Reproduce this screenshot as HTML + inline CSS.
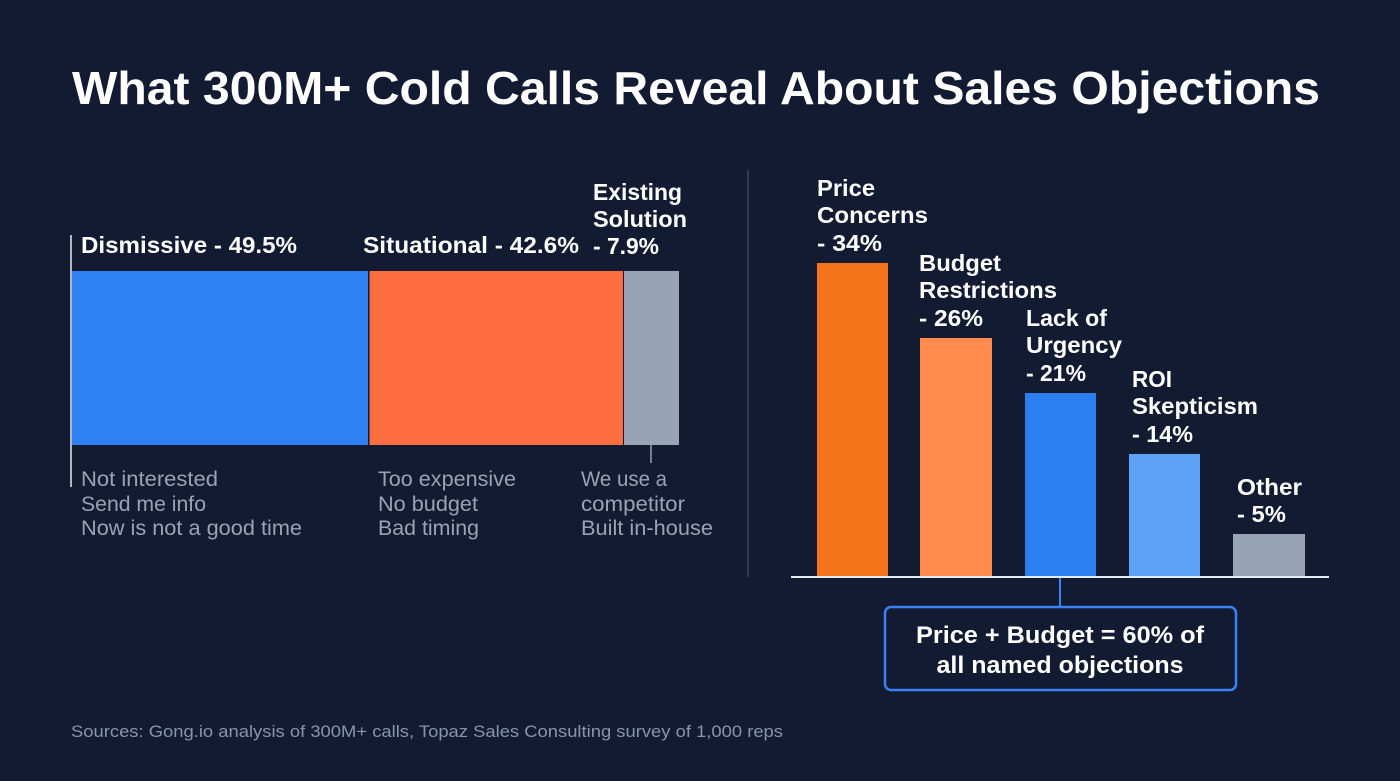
<!DOCTYPE html>
<html>
<head>
<meta charset="utf-8">
<style>
  html, body { margin: 0; padding: 0; background: #121b32; }
  svg { display: block; }
  text { font-family: "Liberation Sans", "DejaVu Sans", sans-serif; }
  .t { fill: #ffffff; font-weight: bold; font-size: 23px; }
  .s { fill: #9aa3b4; font-size: 21px; }
</style>
</head>
<body>
<svg width="1400" height="781" viewBox="0 0 1400 781" xmlns="http://www.w3.org/2000/svg">
  <rect x="0" y="0" width="1400" height="781" fill="#121b32"/>

  <!-- Title -->
  <text x="72" y="104" fill="#ffffff" font-weight="bold" font-size="46" textLength="1248" lengthAdjust="spacingAndGlyphs">What 300M+ Cold Calls Reveal About Sales Objections</text>

  <!-- LEFT: stacked bar -->
  <line x1="71" y1="235" x2="71" y2="487" stroke="#e6e9ef" stroke-width="1.5"/>
  <rect x="72" y="271" width="296" height="174" fill="#2f80f2"/>
  <rect x="369.5" y="271" width="253.5" height="174" fill="#ff6e42"/>
  <rect x="624" y="271" width="55" height="174" fill="#98a3b5"/>
  <line x1="651" y1="445" x2="651" y2="463" stroke="#98a3b5" stroke-width="1.5"/>

  <text class="t" x="81" y="253" textLength="216" lengthAdjust="spacingAndGlyphs">Dismissive - 49.5%</text>
  <text class="t" x="363" y="253" textLength="216" lengthAdjust="spacingAndGlyphs">Situational - 42.6%</text>
  <text class="t" x="593" y="200" textLength="89" lengthAdjust="spacingAndGlyphs">Existing</text>
  <text class="t" x="593" y="227" textLength="94" lengthAdjust="spacingAndGlyphs">Solution</text>
  <text class="t" x="593" y="254" textLength="66" lengthAdjust="spacingAndGlyphs">- 7.9%</text>

  <text class="s" x="81" y="486" textLength="137" lengthAdjust="spacingAndGlyphs">Not interested</text>
  <text class="s" x="81" y="511" textLength="125" lengthAdjust="spacingAndGlyphs">Send me info</text>
  <text class="s" x="81" y="535" textLength="221" lengthAdjust="spacingAndGlyphs">Now is not a good time</text>

  <text class="s" x="378" y="486" textLength="138" lengthAdjust="spacingAndGlyphs">Too expensive</text>
  <text class="s" x="378" y="511" textLength="100" lengthAdjust="spacingAndGlyphs">No budget</text>
  <text class="s" x="378" y="535" textLength="101" lengthAdjust="spacingAndGlyphs">Bad timing</text>

  <text class="s" x="581" y="486" textLength="86" lengthAdjust="spacingAndGlyphs">We use a</text>
  <text class="s" x="581" y="511" textLength="104" lengthAdjust="spacingAndGlyphs">competitor</text>
  <text class="s" x="581" y="535" textLength="132" lengthAdjust="spacingAndGlyphs">Built in-house</text>

  <!-- Divider -->
  <line x1="748" y1="170" x2="748" y2="577" stroke="#3a4560" stroke-width="1.5"/>

  <!-- RIGHT: bar chart -->
  <rect x="817" y="263" width="71" height="314" fill="#f47318"/>
  <rect x="920" y="338" width="72" height="239" fill="#ff8b4e"/>
  <rect x="1025" y="393" width="71" height="184" fill="#2c7ff0"/>
  <rect x="1129" y="454" width="71" height="123" fill="#5da2f7"/>
  <rect x="1233" y="534" width="72" height="43" fill="#98a3b5"/>
  <line x1="791" y1="577" x2="1329" y2="577" stroke="#e6e9ef" stroke-width="2"/>

  <text class="t" x="817" y="196" textLength="58" lengthAdjust="spacingAndGlyphs">Price</text>
  <text class="t" x="817" y="223" textLength="111" lengthAdjust="spacingAndGlyphs">Concerns</text>
  <text class="t" x="817" y="251" textLength="65" lengthAdjust="spacingAndGlyphs">- 34%</text>

  <text class="t" x="919" y="271" textLength="82" lengthAdjust="spacingAndGlyphs">Budget</text>
  <text class="t" x="919" y="298" textLength="138" lengthAdjust="spacingAndGlyphs">Restrictions</text>
  <text class="t" x="919" y="326" textLength="64" lengthAdjust="spacingAndGlyphs">- 26%</text>

  <text class="t" x="1026" y="326" textLength="81" lengthAdjust="spacingAndGlyphs">Lack of</text>
  <text class="t" x="1026" y="353" textLength="96" lengthAdjust="spacingAndGlyphs">Urgency</text>
  <text class="t" x="1026" y="381" textLength="60" lengthAdjust="spacingAndGlyphs">- 21%</text>

  <text class="t" x="1132" y="387" textLength="40" lengthAdjust="spacingAndGlyphs">ROI</text>
  <text class="t" x="1132" y="414" textLength="126" lengthAdjust="spacingAndGlyphs">Skepticism</text>
  <text class="t" x="1132" y="442" textLength="61" lengthAdjust="spacingAndGlyphs">- 14%</text>

  <text class="t" x="1237" y="495" textLength="65" lengthAdjust="spacingAndGlyphs">Other</text>
  <text class="t" x="1237" y="522" textLength="49" lengthAdjust="spacingAndGlyphs">- 5%</text>

  <!-- Callout -->
  <line x1="1060" y1="578" x2="1060" y2="607" stroke="#3b82f6" stroke-width="2"/>
  <rect x="885" y="607" width="351" height="83" rx="6" ry="6" fill="#121b32" stroke="#3b82f6" stroke-width="2.5"/>
  <text x="1060" y="643" text-anchor="middle" fill="#ffffff" font-weight="bold" font-size="24" textLength="288" lengthAdjust="spacingAndGlyphs">Price + Budget = 60% of</text>
  <text x="1060" y="673" text-anchor="middle" fill="#ffffff" font-weight="bold" font-size="24" textLength="247" lengthAdjust="spacingAndGlyphs">all named objections</text>

  <!-- Sources -->
  <text x="71" y="737" fill="#8a94a8" font-size="17" textLength="712" lengthAdjust="spacingAndGlyphs">Sources: Gong.io analysis of 300M+ calls, Topaz Sales Consulting survey of 1,000 reps</text>
</svg>
</body>
</html>
